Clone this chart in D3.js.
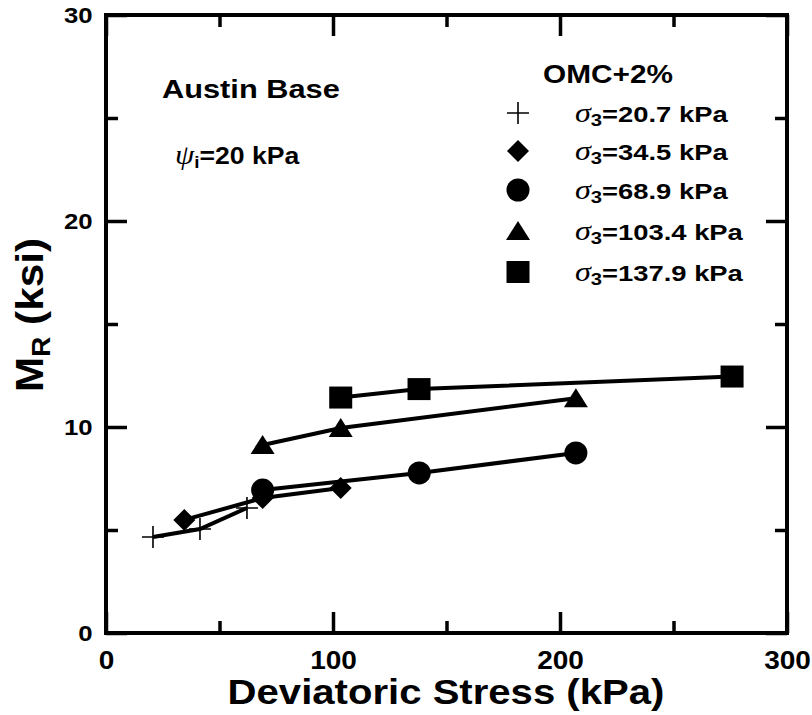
<!DOCTYPE html>
<html>
<head>
<meta charset="utf-8">
<script src="https://cdn.jsdelivr.net/npm/d3@7"></script>
<style>
  html, body { margin: 0; padding: 0; background: #fff; }
  svg { display: block; }
  .sans { font-family: "Liberation Sans", Arial, Helvetica, sans-serif; font-weight: bold; }
  .greek { font-family: "Liberation Serif", "DejaVu Serif", serif; font-style: italic; font-weight: normal; }
</style>
</head>
<body>
<svg id="chart" width="812" height="715"></svg>
<script>
// Resilient modulus vs deviatoric stress, Austin Base, OMC+2%
const confiningLabels = ["20.7 kPa", "34.5 kPa", "68.9 kPa", "103.4 kPa", "137.9 kPa"];
const symbolKinds = ["cross", "diamond", "circle", "triangle", "square"];

const stressS1 = [20.7, 41.4, 62.1];
const mrS1 = [4.66, 5.05, 6.07];
const stressS2 = [34.5, 69.0, 103.4];
const mrS2 = [5.49, 6.55, 7.04];
const stressS3 = [69.0, 138.0, 207.0];
const mrS3 = [6.94, 7.77, 8.74];
const stressS4 = [69.0, 103.4, 207.0];
const mrS4 = [9.13, 9.95, 11.4];
const stressS5 = [103.4, 137.9, 275.8];
const mrS5 = [11.43, 11.84, 12.45];

const xTicksMajor = [0, 100, 200, 300];
const xTicksMinor = [50, 150, 250];
const yTicksMajor = [0, 10, 20, 30];
const yTicksMinor = [5, 15, 25];

const series = [
  { xs: stressS1, ys: mrS1 },
  { xs: stressS2, ys: mrS2 },
  { xs: stressS3, ys: mrS3 },
  { xs: stressS4, ys: mrS4 },
  { xs: stressS5, ys: mrS5 }
].map((s, i) => ({
  kind: symbolKinds[i],
  label: confiningLabels[i],
  points: s.xs.map((x, j) => ({ x, y: s.ys[j] }))
}));

const svg = d3.select("#chart");
const plotL = 106, plotR = 787, plotT = 15, plotB = 633;

const x = d3.scaleLinear().domain([0, 300]).range([plotL, plotR]);
const y = d3.scaleLinear().domain([0, 30]).range([plotB, plotT]);

// wide lettering: text is built at the origin, then stretched horizontally to a set width
function wideText(px, py, width, anchor, build, rotate) {
  const g = svg.append("g");
  const t = g.append("text").attr("text-anchor", anchor).attr("x", 0).attr("y", 0);
  build(t);
  const w = t.node().getBBox().width;
  const k = width / w;
  g.attr("transform", `translate(${px},${py})` + (rotate ? ` rotate(${rotate})` : "") + ` scale(${k},1)`);
  return k;
}

// tick marks pointing inward on all four sides
function tickAxis(axisFn, scale, values, len, transform) {
  const g = svg.append("g")
    .attr("transform", transform)
    .call(axisFn(scale).tickValues(values).tickSize(len).tickFormat(""));
  g.select(".domain").remove();
  g.selectAll(".tick line").attr("stroke", "#000").attr("stroke-width", 3.5);
  return g;
}
tickAxis(d3.axisTop, x, xTicksMajor, 21, `translate(0,${plotB})`);
tickAxis(d3.axisTop, x, xTicksMinor, 12, `translate(0,${plotB})`);
tickAxis(d3.axisBottom, x, xTicksMajor, 21, `translate(0,${plotT})`);
tickAxis(d3.axisBottom, x, xTicksMinor, 12, `translate(0,${plotT})`);
tickAxis(d3.axisRight, y, yTicksMajor, 21, `translate(${plotL},0)`);
tickAxis(d3.axisRight, y, yTicksMinor, 12, `translate(${plotL},0)`);
tickAxis(d3.axisLeft, y, yTicksMajor, 21, `translate(${plotR},0)`);
tickAxis(d3.axisLeft, y, yTicksMinor, 12, `translate(${plotR},0)`);

// tick labels
const labelStretch = 1.12;
const xLab = svg.append("g")
  .attr("transform", `translate(0,${plotB})`)
  .call(d3.axisBottom(x).tickValues(xTicksMajor).tickSize(0).tickPadding(18).tickFormat(d3.format("d")));
xLab.select(".domain").remove();
xLab.selectAll("text").attr("class", "sans").attr("font-size", 25).attr("fill", "#000")
  .attr("transform", `scale(${labelStretch},1)`);

const yLab = svg.append("g")
  .attr("transform", `translate(${plotL},0)`)
  .call(d3.axisLeft(y).tickValues(yTicksMajor).tickSize(0).tickPadding(12).tickFormat(d3.format("d")));
yLab.select(".domain").remove();
yLab.selectAll("text").attr("class", "sans").attr("font-size", 23).attr("fill", "#000")
  .attr("transform", `scale(${labelStretch},1)`);

// frame
svg.append("rect")
  .attr("x", plotL).attr("y", plotT)
  .attr("width", plotR - plotL).attr("height", plotB - plotT)
  .attr("fill", "none").attr("stroke", "#000").attr("stroke-width", 4);

// axis titles
wideText(446, 704, 437, "middle", t =>
  t.attr("class", "sans").attr("font-size", 35).text("Deviatoric Stress (kPa)"));

wideText(43, 315, 154, "middle", t => {
  t.attr("class", "sans").attr("font-size", 38);
  t.append("tspan").text("M");
  t.append("tspan").attr("font-size", 25).attr("dy", 7).text("R");
  t.append("tspan").attr("dy", -7).text(" (ksi)");
}, -90);

// data lines
const line = d3.line().x(d => x(d.x)).y(d => y(d.y));
svg.append("g").selectAll("path")
  .data(series).join("path")
  .attr("d", d => line(d.points))
  .attr("fill", "none").attr("stroke", "#000").attr("stroke-width", 4);

// markers
function drawMarker(g, kind, cx, cy) {
  if (kind === "cross") {
    g.append("path")
      .attr("d", `M${cx - 11},${cy}H${cx + 11}M${cx},${cy - 11}V${cy + 11}`)
      .attr("stroke", "#000").attr("stroke-width", 1.6).attr("fill", "none");
  } else if (kind === "diamond") {
    g.append("path")
      .attr("d", `M${cx},${cy - 11}L${cx + 11},${cy}L${cx},${cy + 11}L${cx - 11},${cy}Z`)
      .attr("fill", "#000");
  } else if (kind === "circle") {
    g.append("circle").attr("cx", cx).attr("cy", cy).attr("r", 11.5).attr("fill", "#000");
  } else if (kind === "triangle") {
    g.append("path")
      .attr("d", `M${cx},${cy - 10}L${cx + 12},${cy + 9}L${cx - 12},${cy + 9}Z`)
      .attr("fill", "#000");
  } else if (kind === "square") {
    g.append("rect").attr("x", cx - 11.5).attr("y", cy - 11)
      .attr("width", 23).attr("height", 22).attr("fill", "#000");
  }
}
const markG = svg.append("g");
series.forEach(s => s.points.forEach(p => drawMarker(markG, s.kind, x(p.x), y(p.y))));

// annotations
wideText(162, 98, 178, "start", t =>
  t.attr("class", "sans").attr("font-size", 25).text("Austin Base"));

wideText(175, 164, 125, "start", t => {
  t.append("tspan").attr("class", "greek").attr("font-size", 28).text("ψ");
  t.append("tspan").attr("class", "sans").attr("font-size", 17).attr("dy", 4).text("i");
  t.append("tspan").attr("class", "sans").attr("font-size", 24).attr("dy", -4).text("=20 kPa");
});

// legend
wideText(543, 83, 130, "start", t =>
  t.attr("class", "sans").attr("font-size", 26).text("OMC+2%"));

const legendRows = [113, 151, 190, 231, 272];
const legendText = t => (label) => {
  t.append("tspan").attr("class", "greek").attr("font-size", 27).text("σ");
  t.append("tspan").attr("class", "sans").attr("font-size", 17).attr("dy", 4).text("3");
  t.append("tspan").attr("class", "sans").attr("font-size", 23).attr("dy", -4).text("=" + label);
};
// common stretch for every legend entry, set by the first row's width
let legendK = null;
series.forEach((s, i) => {
  const ry = legendRows[i];
  drawMarker(svg, s.kind, 518, ry);
  const g = svg.append("g");
  const t = g.append("text").attr("x", 0).attr("y", 0);
  legendText(t)(s.label);
  if (legendK === null) legendK = 153 / t.node().getBBox().width;
  g.attr("transform", `translate(575,${ry + 9}) scale(${legendK},1)`);
});
</script>
</body>
</html>
